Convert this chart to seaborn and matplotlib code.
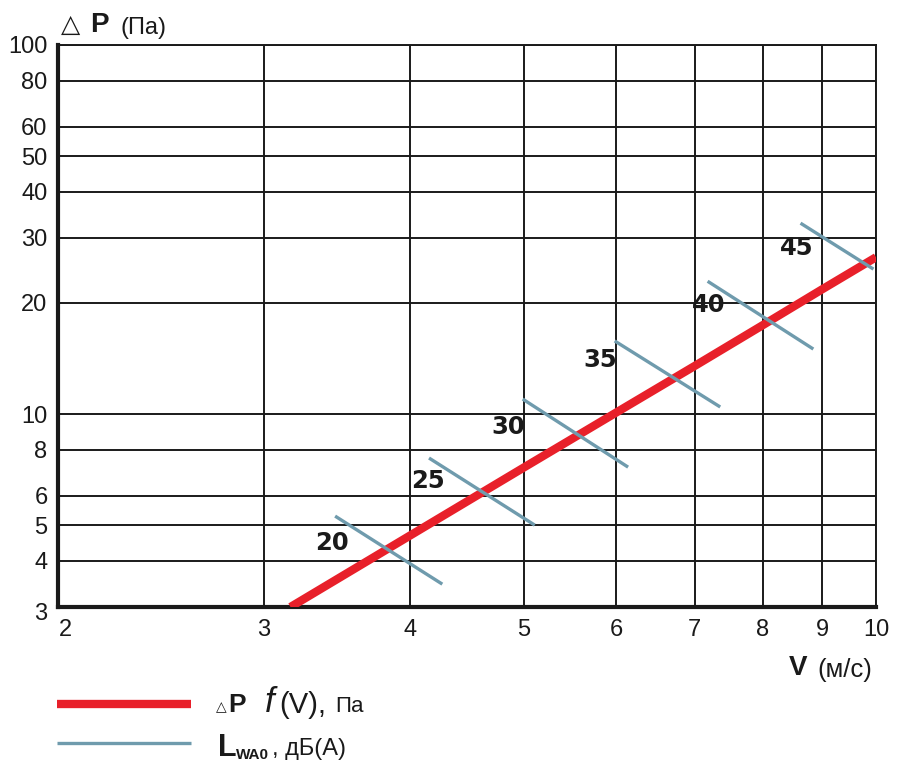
import matplotlib
matplotlib.use("Agg")
import matplotlib.pyplot as plt
from matplotlib.lines import Line2D
from matplotlib.ticker import FixedLocator, FixedFormatter, NullLocator
from matplotlib.transforms import ScaledTranslation
import seaborn as sns
import pandas as pd

# ---- data ----
velocity = [3.16, 4, 5, 6, 7, 8, 9, 10]
pressure = [3.0, 4.69, 7.16, 10.1, 13.5, 17.4, 21.8, 26.6]

noise_levels = [20, 25, 30, 35, 40, 45]
seg_v_start = [3.45, 4.15, 4.99, 5.98, 7.18, 8.62]
seg_p_start = [5.29, 7.60, 10.98, 15.78, 22.9, 32.9]
seg_v_end = [4.26, 5.11, 6.14, 7.36, 8.84, 9.95]
seg_p_end = [3.46, 5.00, 7.18, 10.45, 15.0, 24.7]
label_v = [3.43, 4.14, 4.85, 5.81, 7.19, 8.55]
label_p = [4.47, 6.58, 9.22, 14.0, 19.7, 28.2]

x_ticks = [2, 3, 4, 5, 6, 7, 8, 9, 10]
y_ticks = [3, 4, 5, 6, 8, 10, 20, 30, 40, 50, 60, 80, 100]

RED = "#e8202a"
BLUE = "#6f9bad"
INK = "#1a1a1a"

sns.set_style("white")
plt.rcParams["font.family"] = ["Liberation Sans", "DejaVu Sans"]

W, H = 900, 775
fig = plt.figure(figsize=(W / 100, H / 100), dpi=100)
ax = fig.add_axes([58 / W, 1 - 607 / H, (876 - 58) / W, (607 - 45) / H])

ax.set_xscale("log")
ax.set_yscale("log")
ax.set_xlim(2, 10)
ax.set_ylim(3, 100)

ax.xaxis.set_major_locator(FixedLocator(x_ticks))
ax.xaxis.set_major_formatter(FixedFormatter([str(t) for t in x_ticks]))
ax.xaxis.set_minor_locator(NullLocator())
ax.yaxis.set_major_locator(FixedLocator(y_ticks))
ax.yaxis.set_major_formatter(FixedFormatter([str(t) for t in y_ticks]))
ax.yaxis.set_minor_locator(NullLocator())

ax.grid(True, which="major", color=INK, linewidth=1.4, zorder=0)
ax.set_axisbelow(True)

for side in ["left", "bottom"]:
    ax.spines[side].set_linewidth(3.0)
    ax.spines[side].set_color(INK)
for side in ["top", "right"]:
    ax.spines[side].set_linewidth(1.4)
    ax.spines[side].set_color(INK)

ax.tick_params(axis="y", length=4, width=2, color=INK, pad=3.5,
               labelsize=17, labelcolor=INK)
ax.tick_params(axis="x", length=4, width=2, color=INK, pad=5,
               labelsize=17, labelcolor=INK)

# main curve
df_main = pd.DataFrame({"V": velocity, "P": pressure})
sns.lineplot(data=df_main, x="V", y="P", ax=ax, color=RED, linewidth=6.0,
             estimator=None, sort=False, zorder=3,
             solid_capstyle="butt")

# noise level segments
rows = []
for lvl, v0, p0, v1, p1 in zip(noise_levels, seg_v_start, seg_p_start,
                               seg_v_end, seg_p_end):
    rows.append({"level": lvl, "V": v0, "P": p0})
    rows.append({"level": lvl, "V": v1, "P": p1})
df_seg = pd.DataFrame(rows)
sns.lineplot(data=df_seg, x="V", y="P", units="level", estimator=None,
             sort=False, ax=ax, color=BLUE, linewidth=2.4, zorder=4,
             solid_capstyle="butt")

for lvl, v, p in zip(noise_levels, label_v, label_p):
    ax.text(v, p, str(lvl), fontsize=17.5, fontweight="bold", color=INK,
            ha="center", va="center", zorder=5, family=["DejaVu Sans"])

ax.set_xlabel("")
ax.set_ylabel("")

# nudge the corner tick labels away from the corner, as in the reference
fig.canvas.draw()
xl = ax.get_xticklabels()
xl[0].set_transform(xl[0].get_transform() +
                    ScaledTranslation(7 / 100, 0, fig.dpi_scale_trans))
yl = ax.get_yticklabels()
yl[0].set_transform(yl[0].get_transform() +
                    ScaledTranslation(0, -4 / 100, fig.dpi_scale_trans))


def ftext(x, y, s, **kw):
    fig.text(x / W, 1 - y / H, s, ha="left", va="baseline", color=INK, **kw)


# y axis title
ftext(61, 32, "\u25B3", fontsize=18, family=["DejaVu Sans"])
ftext(90, 32, "P", fontsize=20, fontweight="bold")
ftext(121, 34, "(Па)", fontsize=17)

# x axis title
ftext(789, 675, "V", fontsize=20, fontweight="bold")
ftext(817, 677, "(м/с)", fontsize=18.5)

# legend
fig.add_artist(Line2D([57 / W, 191 / W], [1 - 704 / H, 1 - 704 / H],
                      color=RED, linewidth=6.0, solid_capstyle="butt"))
fig.add_artist(Line2D([57 / W, 191 / W], [1 - 743 / H, 1 - 743 / H],
                      color=BLUE, linewidth=2.4, solid_capstyle="butt"))

ftext(216, 711, "\u25B3", fontsize=10, family=["DejaVu Sans"])
ftext(228, 712, "P", fontsize=19, fontweight="bold")
ftext(265, 712, "f", fontsize=25, fontstyle="italic")
ftext(279, 713, "(V),", fontsize=21)
ftext(335, 712, "Па", fontsize=16)

ftext(218, 756, "L", fontsize=22, fontweight="bold")
ftext(236, 759, "WA0", fontsize=11, fontweight="bold")
ftext(272, 755, ", дБ(A)", fontsize=17)

fig.savefig("out.png", dpi=100, facecolor="white")
